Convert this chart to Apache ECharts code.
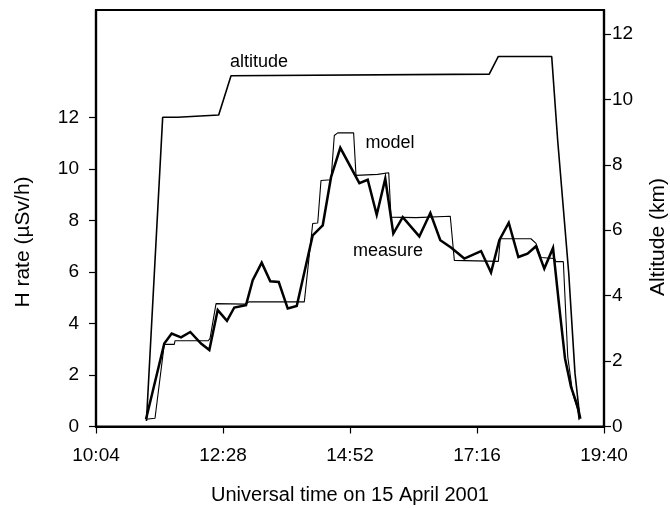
<!DOCTYPE html>
<html>
<head>
<meta charset="utf-8">
<script src="https://cdn.jsdelivr.net/npm/echarts@6/dist/echarts.min.js"></script>
<style>html,body{margin:0;padding:0;background:#fff;}#c{width:670px;height:508px;}</style>
</head>
<body>
<div id="c"></div>
<script>
// times are minutes since midnight (UT)
const xTicks = [604, 748, 892, 1036, 1180];
const leftTicks = [0, 2, 4, 6, 8, 10, 12];
const rightTicks = [0, 2, 4, 6, 8, 10, 12];

const measureT = [660.7, 681.4, 689.8, 700.4, 710.9, 723.1, 732.5, 742.0, 752.5, 760.8, 774.1, 781.7, 791.9, 801.6, 811.2, 821.4, 831.6, 849.7, 861.1, 870.5, 881.0, 902.6, 912.1, 922.3, 932.0, 941.1, 951.8, 970.6, 983.1, 994.4, 1006.5, 1021.6, 1040.6, 1051.9, 1061.3, 1072.0, 1082.9, 1093.3, 1102.9, 1112.3, 1122.2, 1129.3, 1135.8, 1142.6, 1150.2, 1153.2];
const measureV = [0.28, 3.22, 3.61, 3.46, 3.67, 3.22, 2.97, 4.52, 4.10, 4.62, 4.71, 5.68, 6.36, 5.64, 5.61, 4.58, 4.68, 7.42, 7.81, 9.68, 10.82, 9.45, 9.58, 8.22, 9.62, 7.49, 8.13, 7.38, 8.29, 7.23, 6.95, 6.52, 6.81, 5.98, 7.23, 7.91, 6.58, 6.71, 7.00, 6.13, 6.93, 4.64, 2.64, 1.54, 0.77, 0.30];

const modelT = [660.7, 670.9, 681.4, 692.8, 693.6, 731.3, 733.3, 740.1, 772.2, 777.8, 840.2, 849.7, 855.4, 859.1, 870.5, 874.2, 878.1, 896.1, 898.8, 923.4, 925.2, 935.9, 938.5, 966.8, 968.0, 1005.7, 1010.3, 1060.2, 1062.4, 1097.2, 1102.9, 1108.6, 1123.7, 1125.6, 1133.9, 1138.9, 1144.5, 1150.2, 1151.7];
const modelV = [0.28, 0.32, 3.19, 3.19, 3.33, 3.33, 3.42, 4.77, 4.75, 4.84, 4.84, 7.88, 7.90, 9.55, 9.58, 11.30, 11.40, 11.40, 9.75, 9.79, 9.85, 9.85, 8.13, 8.11, 8.16, 8.16, 6.45, 6.41, 7.29, 7.29, 7.11, 6.56, 6.52, 6.40, 6.40, 2.71, 1.29, 0.64, 0.25];

const altT = [661.2, 679.6, 696.6, 697.5, 743.1, 757.1, 1049.9, 1060.2, 1120.7, 1127.5, 1140.0, 1147.1, 1152.0];
const altV = [0.17, 9.45, 9.45, 9.49, 9.52, 10.72, 10.77, 11.31, 11.31, 8.74, 4.69, 1.63, 0.42];

const FONT = '"Liberation Sans", Arial, Helvetica, sans-serif';
const zip = (a, b) => a.map((v, i) => [v, b[i]]);
function hhmm(m) {
  const h = Math.floor(m / 60), mm = Math.round(m % 60);
  return h + ':' + (mm < 10 ? '0' : '') + mm;
}

const chart = echarts.init(document.getElementById('c'), null, {renderer: 'canvas'});
chart.setOption({
  animation: false,
  backgroundColor: '#fff',
  grid: {left: 96, right: 66, top: 10, bottom: 81.5, show: true, borderColor: '#000', borderWidth: 2.2, backgroundColor: 'transparent'},
  xAxis: {
    type: 'value', min: 604, max: 1180,
    axisLine: {show: true, lineStyle: {color: '#000', width: 2.2}},
    axisTick: {show: true, length: 7, customValues: xTicks, lineStyle: {color: '#000', width: 1.2}},
    axisLabel: {customValues: xTicks, formatter: v => hhmm(v), color: '#000', fontSize: 19, fontFamily: FONT, margin: 20},
    splitLine: {show: false}
  },
  yAxis: [{
    type: 'value', min: 0, max: 16.17, position: 'left',
    axisLine: {show: true, lineStyle: {color: '#000', width: 2.2}},
    axisTick: {show: true, length: 7, customValues: leftTicks, lineStyle: {color: '#000', width: 1.2}},
    axisLabel: {customValues: leftTicks, color: '#000', fontSize: 19, fontFamily: FONT, margin: 17},
    splitLine: {show: false}
  }, {
    type: 'value', min: 0, max: 12.73, position: 'right',
    axisLine: {show: true, lineStyle: {color: '#000', width: 2.2}},
    axisTick: {show: true, length: 7, customValues: rightTicks, lineStyle: {color: '#000', width: 1.2}},
    axisLabel: {customValues: rightTicks, color: '#000', fontSize: 19, fontFamily: FONT, margin: 8},
    splitLine: {show: false}
  }],
  series: [{
    name: 'altitude', type: 'line', yAxisIndex: 1, data: zip(altT, altV),
    showSymbol: false, symbol: 'none', lineStyle: {color: '#000', width: 1.6}
  }, {
    name: 'model', type: 'line', yAxisIndex: 0, data: zip(modelT, modelV),
    showSymbol: false, symbol: 'none', lineStyle: {color: '#000', width: 1.1}
  }, {
    name: 'measure', type: 'line', yAxisIndex: 0, data: zip(measureT, measureV),
    showSymbol: false, symbol: 'none', lineStyle: {color: '#000', width: 2.5, join: 'miter'}
  }],
  graphic: [
    {type: 'text', x: 23, y: 242, rotation: Math.PI / 2, style: {text: 'H rate (µSv/h)', fill: '#000', font: '21px ' + FONT, align: 'center', verticalAlign: 'middle'}},
    {type: 'text', x: 658, y: 237, rotation: Math.PI / 2, style: {text: 'Altitude (km)', fill: '#000', font: '21px ' + FONT, align: 'center', verticalAlign: 'middle'}},
    {type: 'text', x: 350, y: 495, style: {text: 'Universal time on 15 April 2001', fill: '#000', font: '20px ' + FONT, align: 'center', verticalAlign: 'middle'}},
    {type: 'text', x: 259, y: 62, style: {text: 'altitude', fill: '#000', font: '18px ' + FONT, align: 'center', verticalAlign: 'middle'}},
    {type: 'text', x: 390, y: 143, style: {text: 'model', fill: '#000', font: '18px ' + FONT, align: 'center', verticalAlign: 'middle'}},
    {type: 'text', x: 388, y: 251, style: {text: 'measure', fill: '#000', font: '18px ' + FONT, align: 'center', verticalAlign: 'middle'}}
  ]
});
</script>
</body>
</html>
